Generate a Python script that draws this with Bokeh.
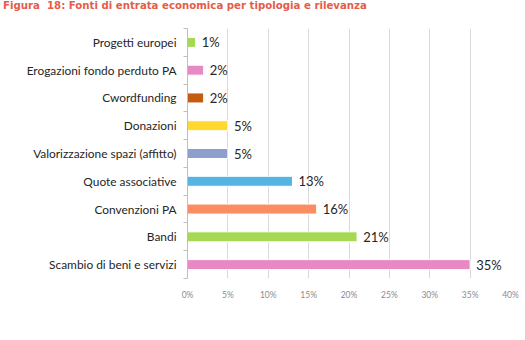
from bokeh.plotting import figure
from bokeh.models import ColumnDataSource, FixedTicker, Div
from bokeh.layouts import column
from bokeh.embed import file_html
from bokeh.resources import INLINE
from bokeh.core.properties import value

categories = ["Scambio di beni e servizi", "Bandi", "Convenzioni PA", "Quote associative",
              "Valorizzazione spazi (affitto)", "Donazioni", "Cwordfunding",
              "Erogazioni fondo perduto PA", "Progetti europei"]
values = [35, 21, 16, 13, 5, 5, 2, 2, 1]
labels = ["35%", "21%", "16%", "13%", "5%", "5%", "2%", "2%", "1%"]
colors = ["#E78AC3", "#A6D854", "#FC8D62", "#56B4E3", "#8DA0CB", "#FFD92F", "#C55A11", "#E78AC3", "#A6D854"]
xticks = [0, 5, 10, 15, 20, 25, 30, 35, 40]
title_text = "Figura&nbsp; 18: Fonti di entrata economica per tipologia e rilevanza"

ypos = [i + 0.5 for i in range(len(categories))]
src = ColumnDataSource(dict(y=ypos, v=values, lab=labels, c=colors,
                            lx=[v + 0.75 for v in values]))

title = Div(text=title_text, width=525, height=20, margin=(0, 0, 0, 0),
            styles={"font-family": "DejaVu Sans", "font-size": "10.2px", "font-weight": "bold",
                    "color": "#E55C4A", "padding-left": "3px", "padding-top": "0px",
                    "line-height": "12px", "white-space": "nowrap"})

p = figure(width=525, height=320, output_backend="svg", toolbar_location=None,
           x_range=(0, 40), y_range=(0, 9), margin=(0, 0, 0, 0),
           min_border_left=187, min_border_right=15, min_border_top=8, min_border_bottom=62)
p.outline_line_color = None
p.background_fill_color = "white"

p.hbar(y="y", right="v", left=0, height=0.36, fill_color="c", line_color="white",
       line_width=1, source=src)
p.text(x="lx", y="y", text="lab", source=src, text_baseline="middle", text_align="left",
       text_font=value("Lato"), text_font_size="13px", text_color="#262626")

p.xaxis.ticker = FixedTicker(ticks=xticks)
p.xaxis.major_label_overrides = {t: f"{t}%" for t in xticks}
p.xaxis.axis_line_color = None
p.xaxis.major_tick_line_color = None
p.xaxis.minor_tick_line_color = None
p.xaxis.major_label_text_font = "Lato"
p.xaxis.major_label_text_font_size = "8.5px"
p.xaxis.major_label_text_color = "#8C8C8C"
p.xaxis.major_label_standoff = 5

p.yaxis.ticker = FixedTicker(ticks=ypos, minor_ticks=list(range(10)))
p.yaxis.major_label_overrides = {y: c for y, c in zip(ypos, categories)}
p.yaxis.axis_line_color = "#BFBFBF"
p.yaxis.major_tick_line_color = None
p.yaxis.minor_tick_line_color = "#BFBFBF"
p.yaxis.minor_tick_out = 4
p.yaxis.minor_tick_in = 0
p.yaxis.major_label_text_font = "Lato"
p.yaxis.major_label_text_font_size = "11.9px"
p.yaxis.major_label_text_color = "#262626"
p.yaxis.major_label_standoff = 5

p.xgrid.ticker = FixedTicker(ticks=xticks)
p.xgrid.grid_line_color = "#D9D9D9"
p.ygrid.grid_line_color = None

layout = column(title, p, spacing=0, margin=(0, 0, 0, 0))
open("out.html", "w").write(file_html(layout, INLINE))
